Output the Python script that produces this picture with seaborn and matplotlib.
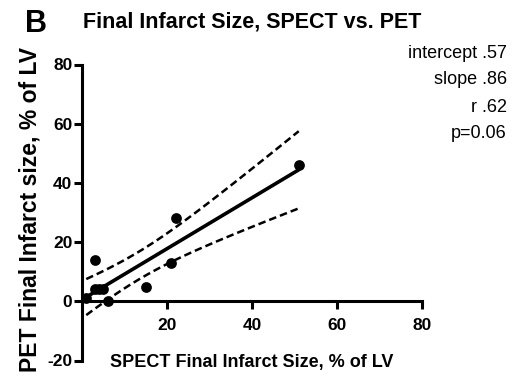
import numpy as np
import pandas as pd
import matplotlib
matplotlib.use("Agg")
import matplotlib.pyplot as plt
import seaborn as sns

# SPECT vs PET final infarct size (% of LV)
spect = [51, 22, 3, 21, 15, 6, 1, 3, 4, 5]
pet = [46, 28, 14, 13, 5, 0, 1, 4, 4, 4]

# reported fit statistics
intercept = 0.57
slope = 0.86
stats_lines = ["intercept .57", "slope .86", "r .62", "p=0.06"]

x_ticks = [20, 40, 60, 80]
y_ticks = [-20, 0, 20, 40, 60, 80]

sns.set_theme(style="ticks")
plt.rcParams["font.family"] = ["Liberation Sans", "DejaVu Sans"]
plt.rcParams["text.color"] = "black"

df = pd.DataFrame({"spect": spect, "pet": pet})

# regression line and 95% confidence band of the mean
x = np.asarray(spect, float)
y = np.asarray(pet, float)
n = len(x)
xs = np.linspace(x.min(), x.max(), 100)
fit = intercept + slope * xs
resid = y - (intercept + slope * x)
s = np.sqrt(np.sum(resid ** 2) / (n - 2))
sxx = np.sum((x - x.mean()) ** 2)
t_crit = 2.306
half = t_crit * s * np.sqrt(1.0 / n + (xs - x.mean()) ** 2 / sxx)
band = pd.DataFrame({"x": xs, "fit": fit, "lo": fit - half, "hi": fit + half})

W, H = 517, 379
fig = plt.figure(figsize=(W / 100, H / 100), dpi=100)
ax = fig.add_axes([82 / W, 1 - 360.5 / H, 340 / W, 296 / H])

sns.lineplot(data=band, x="x", y="fit", ax=ax, color="black", linewidth=2.6)
sns.lineplot(data=band, x="x", y="hi", ax=ax, color="black", linewidth=1.8,
             linestyle=(0, (3, 1.6)))
sns.lineplot(data=band, x="x", y="lo", ax=ax, color="black", linewidth=1.8,
             linestyle=(0, (3, 1.6)))
sns.scatterplot(data=df, x="spect", y="pet", ax=ax, color="black", s=60,
                edgecolor="black", linewidth=0, zorder=5, clip_on=False)

# axis frame: x axis crosses at y = 0 (set before styling the ticks,
# since moving a spine rebuilds its ticks)
ax.spines["top"].set_visible(False)
ax.spines["right"].set_visible(False)
ax.spines["bottom"].set_position(("data", 0))
for sp in ("left", "bottom"):
    ax.spines[sp].set_linewidth(2.2)
    ax.spines[sp].set_color("black")

ax.set_xlim(0, 80)
ax.set_ylim(-20, 80)
ax.set_xticks(x_ticks)
ax.set_yticks(y_ticks)
ax.set_xticklabels([str(v) for v in x_ticks])
ax.set_yticklabels([str(v) for v in y_ticks])
ax.tick_params(axis="both", which="major", length=6, width=2.2, color="black",
               labelcolor="black", labelsize=12.5)
ax.tick_params(axis="x", pad=6)
ax.tick_params(axis="y", pad=1)
plt.setp(ax.get_xticklabels() + ax.get_yticklabels(), fontweight="bold")

ax.set_xlabel("")
ax.set_ylabel("")
fig.text(252 / W, 1 - 363 / H, "SPECT Final Infarct Size, % of LV",
         ha="center", va="center", fontsize=13, fontweight="bold")
fig.text(30 / W, 1 - 210 / H, "PET Final Infarct size, % of LV",
         ha="center", va="center", rotation=90, fontsize=16.5, fontweight="bold")

fig.text(83 / W, 1 - 22 / H, "Final Infarct Size, SPECT vs. PET",
         ha="left", va="center", fontsize=15.5, fontweight="bold")
fig.text(25 / W, 1 - 24.5 / H, "B", ha="left", va="center",
         fontsize=22, fontweight="bold")

for i, line in enumerate(stats_lines):
    fig.text(507 / W, 1 - (53 + 27 * i) / H, line, ha="right", va="center",
             fontsize=13)

fig.savefig("out.png", dpi=100)
